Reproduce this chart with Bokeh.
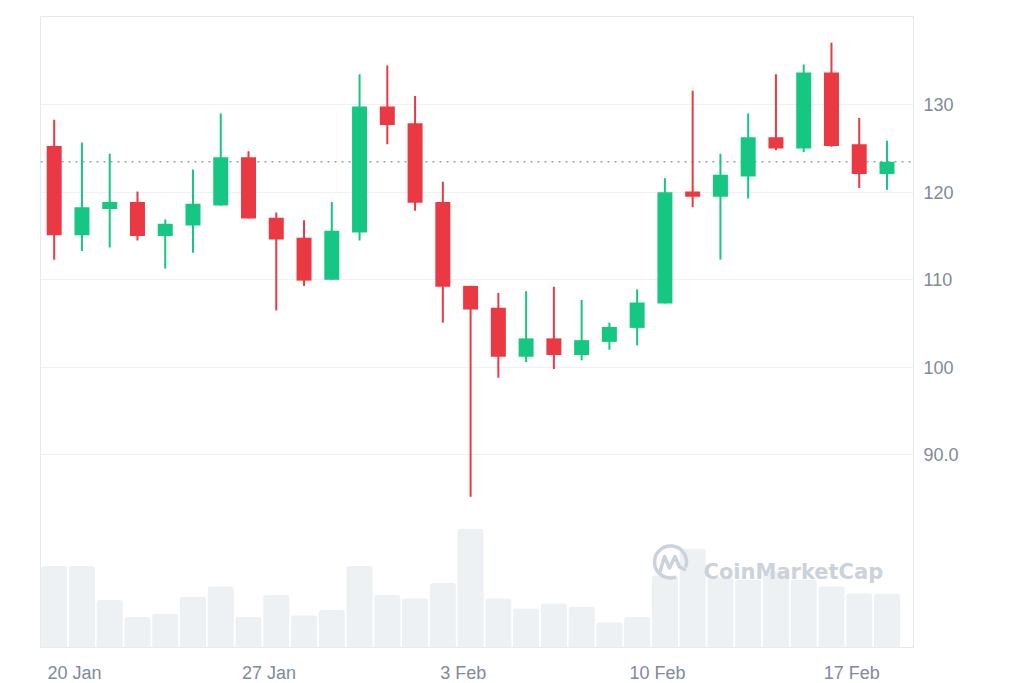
from bokeh.plotting import figure
from bokeh.models import ColumnDataSource, Range1d, FixedTicker, Span, Label
from bokeh.embed import file_html
from bokeh.resources import INLINE

# ---------------- data ----------------
dates = ["19 Jan", "20 Jan", "21 Jan", "22 Jan", "23 Jan", "24 Jan", "25 Jan", "26 Jan",
         "27 Jan", "28 Jan", "29 Jan", "30 Jan", "31 Jan", "1 Feb", "2 Feb", "3 Feb",
         "4 Feb", "5 Feb", "6 Feb", "7 Feb", "8 Feb", "9 Feb", "10 Feb", "11 Feb",
         "12 Feb", "13 Feb", "14 Feb", "15 Feb", "16 Feb", "17 Feb", "18 Feb"]
open_ = [125.3, 115.1, 118.1, 118.9, 115.0, 116.2, 118.5, 124.0, 117.1, 114.8, 110.0,
         115.4, 129.8, 127.9, 118.9, 109.3, 106.8, 101.2, 103.3, 101.4, 102.9, 104.5,
         107.3, 120.1, 119.5, 121.8, 126.3, 125.0, 133.7, 125.5, 122.1]
high = [128.3, 125.7, 124.4, 120.1, 116.9, 122.6, 129.0, 124.7, 117.7, 116.8, 118.9,
        133.5, 134.5, 131.0, 121.2, 109.3, 108.5, 108.7, 109.2, 107.7, 105.1, 108.9,
        121.6, 131.6, 124.4, 129.0, 133.5, 134.6, 137.1, 128.5, 125.9]
low = [112.3, 113.3, 113.7, 114.5, 111.3, 113.1, 118.5, 117.0, 106.5, 109.3, 110.0,
       114.5, 125.5, 117.9, 105.1, 85.2, 98.8, 100.6, 99.8, 100.8, 102.0, 102.5,
       107.3, 118.3, 112.3, 119.3, 124.8, 124.6, 125.2, 120.5, 120.3]
close = [115.1, 118.3, 118.9, 115.0, 116.4, 118.7, 124.0, 117.0, 114.6, 109.9, 115.6,
         129.8, 127.7, 118.8, 109.2, 106.6, 101.2, 103.3, 101.4, 103.1, 104.6, 107.4,
         120.0, 119.5, 122.0, 126.3, 125.0, 133.7, 125.3, 122.1, 123.5]
volume_m = [814, 814, 474, 304, 337, 507, 610, 304, 524, 320, 374, 814, 524, 490, 644,
            1187, 490, 390, 440, 407, 250, 304, 720, 984, 694, 677, 760, 677, 610, 540, 537]
tick_labels = ["20 Jan", "27 Jan", "3 Feb", "10 Feb", "17 Feb"]
price_ticks = [90, 100, 110, 120, 130]

UP = "#16c784"
DOWN = "#ea3943"
TIME_OFFSET = 0.265  # candle time within the day

xs = [i + TIME_OFFSET for i in range(len(dates))]
src = ColumnDataSource(dict(
    x=xs, open=open_, high=high, low=low, close=close, vol=volume_m,
    top=[max(o, c) for o, c in zip(open_, close)],
    bottom=[min(o, c) for o, c in zip(open_, close)],
    color=[UP if c >= o else DOWN for o, c in zip(open_, close)],
))

X0, X1 = -0.2285, 31.22
Y0, Y1 = 67.97, 140.09
FW, FH = 873, 631
LEFT, TOP = 40, 16

p = figure(frame_width=FW, frame_height=FH, output_backend="svg", toolbar_location=None,
           x_range=Range1d(X0, X1), y_range=Range1d(Y0, Y1), y_axis_location="right",
           min_border_left=LEFT, min_border_top=TOP, min_border_right=95, min_border_bottom=36)
p.background_fill_color = "white"
p.border_fill_color = "white"
p.outline_line_color = "#e6e9ee"
p.outline_line_width = 1

p.extra_y_ranges = {"vol": Range1d(0, 6310)}

# volume bars
p.vbar(x="x", top="vol", width=0.94, y_range_name="vol", source=src,
       fill_color="#eef1f4", line_color=None, border_radius=(3, 3, 0, 0))

# watermark (decoration placed by frame pixel positions)
def px2x(px):
    return X0 + (px - LEFT) * (X1 - X0) / FW

def px2y(py):
    return Y1 - (py - TOP) * (Y1 - Y0) / FH

WM = "#cbd2db"
p.arc(x=[px2x(670)], y=[px2y(561.5)], radius=16, radius_units="screen",
      start_angle=-0.35, end_angle=5.06, direction="anticlock",
      line_color=WM, line_width=3.5)
mx = [659.5, 664, 669, 674.5, 679, 684]
my = [571, 556, 567.5, 556, 566.5, 569]
p.line(x=[px2x(v) for v in mx], y=[px2y(v) for v in my], line_color=WM,
       line_width=3.5, line_join="round", line_cap="round")
p.add_layout(Label(x=px2x(703), y=px2y(571), text="CoinMarketCap", text_baseline="alphabetic",
                   text_font="DejaVu Sans", text_font_style="bold", text_font_size="21px",
                   text_color=WM))

# last price dotted line
span = Span(location=close[-1], dimension="width", line_color="#9aa1ae",
            line_dash="2 5", line_width=1.5, level="underlay")
p.add_layout(span)

# candles
p.segment(x0="x", y0="low", x1="x", y1="high", line_color="color", line_width=2, source=src)
p.vbar(x="x", top="top", bottom="bottom", width=0.54, fill_color="color",
       line_color=None, source=src)

# axes
label_color = "#808a9d"
xt = [dates.index(t) for t in tick_labels]
p.xaxis.ticker = FixedTicker(ticks=xt)
p.xaxis.major_label_overrides = {i: t for i, t in zip(xt, tick_labels)}
p.yaxis.ticker = FixedTicker(ticks=price_ticks)
p.yaxis.major_label_overrides = {90: "90.0"}
for ax in (p.xaxis, p.yaxis):
    ax.axis_line_color = None
    ax.major_tick_line_color = None
    ax.minor_tick_line_color = None
    ax.major_label_text_font = "Liberation Sans"
    ax.major_label_text_font_size = "18px"
    ax.major_label_text_color = label_color
p.xaxis.major_label_standoff = 9
p.yaxis.major_label_standoff = 4

p.xgrid.visible = False
p.ygrid.ticker = FixedTicker(ticks=price_ticks)
p.ygrid.grid_line_color = "#eff2f5"
p.ygrid.grid_line_width = 1

open("out.html", "w").write(file_html(p, INLINE))
